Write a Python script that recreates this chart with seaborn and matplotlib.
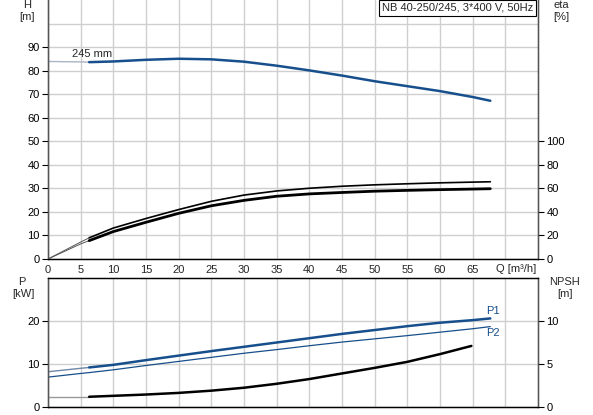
import numpy as np
import matplotlib
matplotlib.use("Agg")
import matplotlib.pyplot as plt
import seaborn as sns

# pump curve data
q_min = 6.3  # start of the allowed operating range

q_head = [0, 5, 6.3, 10, 15, 20, 25, 30, 35, 40, 45, 50, 55, 60, 65, 67.7]
h_head = [83.9, 83.7, 83.6, 83.9, 84.6, 85.05, 84.8, 83.8, 82.1, 80.1, 77.9, 75.5,
          73.4, 71.3, 68.8, 67.2]

q_eta = [0, 5, 6.3, 10, 15, 20, 25, 30, 35, 40, 45, 50, 55, 60, 65, 67.7]
eta_pump = [0, 14.4, 18.0, 26.3, 34.4, 42.0, 49.0, 54.3, 57.8, 60.1, 61.8, 63.0,
            63.9, 64.7, 65.3, 65.6]
eta_total = [0, 12.8, 15.6, 23.3, 31.2, 38.8, 45.2, 49.8, 53.3, 55.3, 56.5, 57.6,
             58.3, 58.9, 59.4, 59.7]

q_pow = [0, 5, 6.3, 10, 15, 20, 25, 30, 35, 40, 45, 50, 55, 60, 65, 67.7]
p1 = [8.2, 9.0, 9.2, 9.8, 10.9, 11.95, 13.0, 14.0, 15.0, 16.0, 17.0, 17.9, 18.8,
      19.6, 20.2, 20.6]
p2 = [6.95, 7.8, 8.0, 8.65, 9.65, 10.6, 11.55, 12.5, 13.35, 14.25, 15.1, 15.85,
      16.6, 17.4, 18.2, 18.7]

q_npsh = [0, 6.3, 10, 15, 20, 25, 30, 35, 40, 45, 50, 55, 60, 64.8]
npsh = [1.19, 1.19, 1.3, 1.45, 1.64, 1.9, 2.24, 2.7, 3.25, 3.9, 4.55, 5.25, 6.15, 7.1]

x_ticks = list(range(0, 75, 5))
x_labels = [str(v) for v in x_ticks[:-1]] + [""]

sns.set_style("white")
plt.rcParams["font.family"] = ["Liberation Sans", "DejaVu Sans"]
FS = 8
plt.rcParams["font.size"] = FS
plt.rcParams["lines.solid_joinstyle"] = "round"

BLUE = "#174f8c"
LIGHT = "#a9b4c4"
GRID = "#cfcfcf"


def split(q, y):
    q = np.asarray(q, float)
    y = np.asarray(y, float)
    return q[q <= q_min], y[q <= q_min], q[q >= q_min], y[q >= q_min]


def curve(ax, q, y, c_thin, lw_thin, c_thick, lw_thick):
    qa, ya, qb, yb = split(q, y)
    sns.lineplot(x=qa, y=ya, ax=ax, color=c_thin, lw=lw_thin)
    sns.lineplot(x=qb, y=yb, ax=ax, color=c_thick, lw=lw_thick)


fig = plt.figure(figsize=(5.93, 4.15), dpi=100)
ax1 = fig.add_axes([48 / 593, 1 - 259 / 415, 490 / 593, 259 / 415])
ax2 = fig.add_axes([48 / 593, 1 - 407 / 415, 490 / 593, 129 / 415])
ax1r = ax1.twinx()
ax2r = ax2.twinx()

for ax in (ax1, ax2):
    ax.set_xlim(0, 75)
    ax.set_xticks(x_ticks)
    ax.grid(True, color=GRID, lw=1.0)
    ax.set_axisbelow(True)

# head
curve(ax1, q_head, h_head, LIGHT, 1.0, BLUE, 1.8)
ax1.text(3.7, 84.9, "245 mm", ha="left", va="bottom", fontsize=FS)
ax1.set_ylim(0, 110)
ax1.set_yticks(range(0, 100, 10))
ax1.axhline(100, color=GRID, lw=1.0, zorder=0)
ax1.set_xticklabels(x_labels)
ax1.text(68.6, -0.039, "Q [m³/h]", transform=ax1.get_xaxis_transform(),
         ha="left", va="center", fontsize=FS)

# efficiency
curve(ax1r, q_eta, eta_pump, "#555555", 0.7, "black", 1.2)
curve(ax1r, q_eta, eta_total, "#555555", 0.7, "black", 2.0)
ax1r.set_ylim(0, 220)
ax1r.set_yticks(range(0, 120, 20))

# power
curve(ax2, q_pow, p1, "#6f87a8", 1.0, BLUE, 1.8)
sns.lineplot(x=q_pow, y=p2, ax=ax2, color=BLUE, lw=0.9)
ax2.text(67.0, 22.4, "P1", color=BLUE, ha="left", va="center", fontsize=FS)
ax2.text(67.0, 17.3, "P2", color=BLUE, ha="left", va="center", fontsize=FS)
ax2.set_ylim(0, 30)
ax2.set_yticks([0, 10, 20])
ax2.set_xticklabels([])
ax2.tick_params(axis="x", length=0)

# npsh
curve(ax2r, q_npsh, npsh, "#999999", 1.0, "black", 1.8)
ax2r.set_ylim(0, 15)
ax2r.set_yticks([0, 5, 10])

for ax in (ax1, ax2, ax1r, ax2r):
    ax.set_xlabel("")
    ax.set_ylabel("")
    ax.tick_params(axis="y", direction="out", length=4, width=0.8, pad=2,
                   labelsize=FS, colors="black")
    for s in ax.spines.values():
        s.set_color("black")
        s.set_linewidth(0.9)
ax1.tick_params(axis="x", direction="out", length=2, pad=2, labelsize=FS)
ax1.spines["top"].set_visible(False)
ax1r.spines["top"].set_visible(False)
for ax in (ax1r, ax2r):
    ax.spines["right"].set_color("#555555")
    ax.spines["left"].set_color("#555555")

fig.text(27 / 593, 1 - 5 / 415, "H", ha="center", va="center", fontsize=FS)
fig.text(27 / 593, 1 - 17 / 415, "[m]", ha="center", va="center", fontsize=FS)
fig.text(561 / 593, 1 - 5 / 415, "eta", ha="center", va="center", fontsize=FS)
fig.text(561 / 593, 1 - 17 / 415, "[%]", ha="center", va="center", fontsize=FS)
fig.text(22 / 593, 1 - 282 / 415, "P", ha="center", va="center", fontsize=FS)
fig.text(23 / 593, 1 - 294 / 415, "[kW]", ha="center", va="center", fontsize=FS)
fig.text(564 / 593, 1 - 282 / 415, "NPSH", ha="center", va="center", fontsize=FS)
fig.text(565 / 593, 1 - 294 / 415, "[m]", ha="center", va="center", fontsize=FS)
fig.text(533 / 593, 1 - 8 / 415, "NB 40-250/245, 3*400 V, 50Hz", ha="right", va="center",
         fontsize=FS, bbox=dict(boxstyle="square,pad=0.25", fc="white", ec="black", lw=0.8))

fig.savefig("out.png", dpi=100)
